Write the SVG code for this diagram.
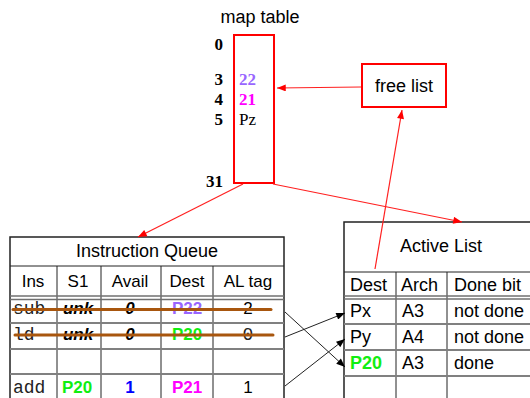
<svg xmlns="http://www.w3.org/2000/svg" width="530" height="398" viewBox="0 0 530 398">
<style>
.sans{font-family:"Liberation Sans",Arial,sans-serif;font-size:17px;fill:#000}
.al{font-size:18px}
.c{text-anchor:middle}
.serif{font-family:"Liberation Serif","Times New Roman",serif;font-size:17px;fill:#000}
.b{font-weight:bold}
.mono{font-family:"Liberation Mono","Courier New",monospace;font-size:18px;fill:#222}
.red{stroke:#ff0000;stroke-width:2;fill:#fff}
.rl{stroke:#ff2020;stroke-width:1.2;fill:none}
.bl{stroke:#222;stroke-width:1;fill:none}
.frame{stroke:#222;stroke-width:1.5;fill:none}
.row{stroke:#808080;stroke-width:2;fill:none}
.dbl{stroke:#707070;stroke-width:1.3;fill:none}
.strike{stroke:#a8560e;stroke-width:3;stroke-linecap:round}
.purple{fill:#9966ff}
.mag{fill:#ff00ff}
.green{fill:#11ee11}
.blue{fill:#0000ff}
</style>
<defs>
<marker id="ar" viewBox="0 0 10 8" refX="10" refY="4" markerWidth="10" markerHeight="7" markerUnits="userSpaceOnUse" orient="auto">
<path d="M0,0 L10,4 L0,8 z" fill="#ff0000"/>
</marker>
<marker id="ab" viewBox="0 0 10 8" refX="10" refY="4" markerWidth="10" markerHeight="7" markerUnits="userSpaceOnUse" orient="auto">
<path d="M0,0 L10,4 L0,8 z" fill="#000"/>
</marker>
</defs>
<rect width="530" height="398" fill="#fff"/>

<g id="map-table">
<text class="sans al c" x="260" y="23">map table</text>
<rect class="red" x="234" y="35" width="40" height="148" fill="none"/>
<g class="serif b" text-anchor="end">
<text x="223" y="50">0</text>
<text x="223" y="85">3</text>
<text x="223" y="105">4</text>
<text x="223" y="125">5</text>
<text x="223" y="187">31</text>
</g>
<text class="serif b purple" x="239" y="85">22</text>
<text class="serif b mag" x="239" y="105">21</text>
<text class="serif" x="239" y="125">Pz</text>
</g>

<g id="free-list">
<rect class="red" x="362" y="64" width="84" height="43"/>
<text class="sans al c" x="404" y="92">free list</text>
</g>

<g id="instruction-queue">
<rect class="frame" x="10" y="237" width="274" height="170"/>
<line class="bl" x1="10" y1="266" x2="284" y2="266"/>
<text class="sans al c" x="147" y="257">Instruction Queue</text>
<g class="bl">
<line x1="57" y1="266" x2="57" y2="398"/>
<line x1="101" y1="266" x2="101" y2="398"/>
<line x1="161" y1="266" x2="161" y2="398"/>
<line x1="213" y1="266" x2="213" y2="398"/>
</g>
<line class="dbl" x1="10" y1="296" x2="284" y2="296"/>
<line class="dbl" x1="10" y1="299.5" x2="284" y2="299.5"/>
<line class="row" x1="10" y1="323" x2="284" y2="323"/>
<line class="row" x1="10" y1="349" x2="284" y2="349"/>
<line class="row" x1="10" y1="374" x2="284" y2="374"/>
<g class="sans c">
<text x="33" y="287">Ins</text>
<text x="78" y="287">S1</text>
<text x="130" y="287">Avail</text>
<text x="187" y="287">Dest</text>
<text x="248" y="287">AL tag</text>
</g>
<text class="mono" x="13" y="314">sub</text>
<text class="sans c b" x="78" y="314" font-style="italic">unk</text>
<text class="sans c b" x="130" y="314" font-style="italic">0</text>
<text class="sans c b purple" x="187" y="314">P22</text>
<text class="sans c" x="248" y="314">2</text>
<text class="mono" x="13" y="340">ld</text>
<text class="sans c b" x="78" y="340" font-style="italic">unk</text>
<text class="sans c b" x="130" y="340" font-style="italic">0</text>
<text class="sans c b green" x="187" y="340">P20</text>
<text class="mono c" x="248" y="340" fill="#444">0</text>
<line class="strike" x1="13" y1="309.5" x2="271" y2="309.5"/>
<line class="strike" x1="15" y1="335" x2="273" y2="335"/>
<text class="mono" x="13" y="393">add</text>
<text class="sans c b green" x="77" y="393">P20</text>
<text class="sans c b blue" x="130" y="393">1</text>
<text class="sans c b mag" x="187" y="393">P21</text>
<text class="sans c" x="248" y="393">1</text>
</g>

<g id="active-list">
<rect class="frame" x="344" y="222" width="200" height="190"/>
<line class="bl" x1="344" y1="272" x2="530" y2="272"/>
<text class="sans al c" x="441" y="252">Active List</text>
<g class="bl">
<line x1="396" y1="272" x2="396" y2="398"/>
<line x1="447" y1="272" x2="447" y2="398"/>
</g>
<line class="dbl" x1="344" y1="296" x2="530" y2="296"/>
<line class="dbl" x1="344" y1="299" x2="530" y2="299"/>
<line class="row" x1="344" y1="324" x2="530" y2="324"/>
<line class="row" x1="344" y1="350" x2="530" y2="350"/>
<line class="row" x1="344" y1="376" x2="530" y2="376"/>
<g class="sans al">
<text x="350" y="291">Dest</text>
<text x="401" y="291">Arch</text>
<text x="454" y="291">Done bit</text>
<text x="350" y="317">Px</text>
<text x="402" y="317">A3</text>
<text x="454" y="317">not done</text>
<text x="350" y="343">Py</text>
<text x="402" y="343">A4</text>
<text x="454" y="343">not done</text>
<text x="350" y="369" class="b green">P20</text>
<text x="402" y="369">A3</text>
<text x="454" y="369">done</text>
</g>
</g>

<g id="connectors">
<line class="rl" x1="361" y1="87" x2="277" y2="88" marker-end="url(#ar)"/>
<line class="rl" x1="375" y1="269" x2="402" y2="110" marker-end="url(#ar)"/>
<line class="rl" x1="243" y1="184" x2="138" y2="237" marker-end="url(#ar)"/>
<line class="rl" x1="273" y1="184" x2="462" y2="222" marker-end="url(#ar)"/>
<line class="bl" x1="285" y1="312" x2="345" y2="367" marker-end="url(#ab)"/>
<line class="bl" x1="285" y1="337" x2="345" y2="313" marker-end="url(#ab)"/>
<line class="bl" x1="285" y1="386" x2="345" y2="339" marker-end="url(#ab)"/>
</g>
</svg>
